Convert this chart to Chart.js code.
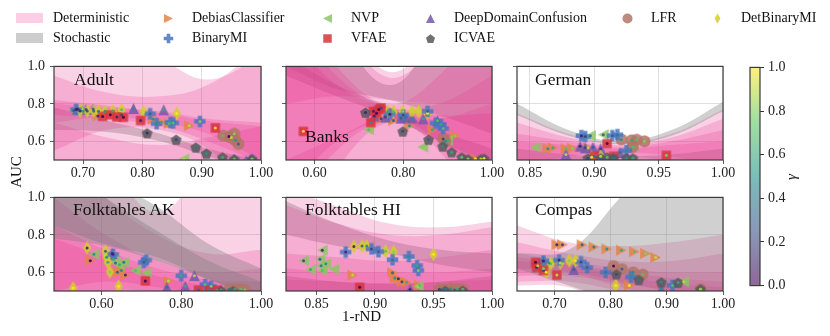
<!DOCTYPE html>
<html>
<head>
<meta charset="utf-8">
<script src="https://cdn.jsdelivr.net/npm/chart.js@4.4.1/dist/chart.umd.min.js"></script>
<style>
  body { margin: 0; width: 830px; height: 336px; position: relative; background: #fff; overflow: hidden;
         font-family: 'Liberation Serif', 'DejaVu Serif', serif; color: #111; }
  canvas.panel { position: absolute; }
  .ttl { position: absolute; font-size: 17.5px; line-height: 20px; white-space: nowrap; }
  .lg { position: absolute; font-size: 14px; line-height: 16px; white-space: nowrap; }
  .sw { position: absolute; width: 27px; height: 10px; }
  .axt { position: absolute; font-size: 15px; line-height: 18px; white-space: nowrap; }
</style>
</head>
<body>
<script>
// ---- methods ----
const methodCodes = ['DB', 'NVP', 'DDC', 'LFR', 'DBMI', 'BMI', 'VFAE', 'ICVAE'];
const methodNames = ['DebiasClassifier', 'NVP', 'DeepDomainConfusion', 'LFR', 'DetBinaryMI', 'BinaryMI', 'VFAE', 'ICVAE'];
const methodColors = ['rgba(226,133,72,0.85)', 'rgba(140,198,100,0.85)', 'rgba(118,88,170,0.85)', 'rgba(178,118,102,0.85)',
                      'rgba(214,206,44,0.85)', 'rgba(72,118,190,0.85)', 'rgba(214,52,60,0.85)', 'rgba(88,88,92,0.85)'];
const methodShapes = ['triR', 'triL', 'triU', 'circ', 'thin', 'plus', 'sq', 'pent'];

// ---- axes ----
const yTicks = [0.6, 0.8, 1.0];
const adultXTicks = [0.7, 0.8, 0.9, 1.0];
const banksXTicks = [0.6, 0.8, 1.0];
const germanXTicks = [0.85, 0.90, 0.95, 1.0];
const akXTicks = [0.6, 0.8, 1.0];
const hiXTicks = [0.85, 0.90, 0.95, 1.0];
const compasXTicks = [0.7, 0.8, 0.9, 1.0];

// ---- points: [method, 1-rND, AUC, gamma] ----
const adultPts = [
  ['DB',0.765,0.74,0.2],['DB',0.818,0.718,0.5],['DB',0.832,0.70,0.6],['DB',0.845,0.695,0.7],['DB',0.879,0.683,0.9],['DB',0.725,0.735,0.1],
  ['NVP',0.684,0.765,0.3],['NVP',0.70,0.76,0.5],['NVP',0.87,0.505,0.9],['NVP',0.692,0.77,0.2],
  ['DDC',0.69,0.772,0.1],['DDC',0.705,0.77,0.2],['DDC',0.717,0.772,0.3],['DDC',0.785,0.775,0.5],['DDC',0.836,0.768,0.6],['DDC',0.955,0.50,0.9],['DDC',0.975,0.495,1.0],
  ['LFR',0.936,0.63,0.7],['LFR',0.946,0.625,0.0],['LFR',0.955,0.64,0.8],['LFR',0.957,0.605,0.5],['LFR',0.962,0.585,0.3],['LFR',0.95,0.62,0.9],
  ['DBMI',0.695,0.762,0.1],['DBMI',0.707,0.762,0.2],['DBMI',0.718,0.762,0.3],['DBMI',0.726,0.76,0.4],['DBMI',0.737,0.76,0.5],['DBMI',0.750,0.762,0.6],['DBMI',0.765,0.768,0.7],['DBMI',0.802,0.758,0.9],['DBMI',0.858,0.748,1.0],
  ['BMI',0.688,0.77,0.1],['BMI',0.813,0.747,0.3],['BMI',0.824,0.694,0.5],['BMI',0.847,0.70,0.6],['BMI',0.852,0.698,0.7],['BMI',0.897,0.706,0.8],['BMI',0.984,0.498,0.9],
  ['VFAE',0.733,0.733,0.0],['VFAE',0.746,0.742,0.0],['VFAE',0.757,0.73,0.1],['VFAE',0.768,0.728,0.0],['VFAE',0.797,0.711,0.1],['VFAE',0.923,0.671,1.0],
  ['ICVAE',0.808,0.644,0.1],['ICVAE',0.857,0.609,0.2],['ICVAE',0.890,0.568,0.4],['ICVAE',0.908,0.535,0.5],['ICVAE',0.935,0.515,0.6],['ICVAE',0.955,0.505,0.7],['ICVAE',0.985,0.505,0.8]
];
const banksPts = [
  ['VFAE',0.575,0.653,1.0],['VFAE',0.733,0.76,0.1],['VFAE',0.745,0.77,0.0],['VFAE',0.75,0.778,0.2],['VFAE',0.727,0.70,0.5],['VFAE',0.74,0.75,0.0],
  ['ICVAE',0.715,0.754,0.1],['ICVAE',0.799,0.653,0.2],['ICVAE',0.857,0.609,0.3],['ICVAE',0.889,0.573,0.5],['ICVAE',0.909,0.542,0.6],['ICVAE',0.932,0.515,0.7],['ICVAE',0.946,0.505,0.8],['ICVAE',0.975,0.505,0.9],['ICVAE',0.982,0.508,1.0],
  ['DDC',0.735,0.735,0.1],['DDC',0.76,0.73,0.2],['DDC',0.795,0.724,0.3],['DDC',0.805,0.73,0.4],['DDC',0.82,0.725,0.5],['DDC',0.877,0.71,0.7],['DDC',0.845,0.72,0.6],
  ['DBMI',0.765,0.759,0.6],['DBMI',0.778,0.759,0.7],['DBMI',0.799,0.76,0.8],['DBMI',0.82,0.76,0.9],['DBMI',0.835,0.76,0.9],['DBMI',0.855,0.75,1.0],
  ['BMI',0.855,0.76,0.3],['BMI',0.873,0.697,0.5],['BMI',0.885,0.69,0.6],['BMI',0.89,0.668,0.7],['BMI',0.80,0.74,0.2],['BMI',0.77,0.745,0.1],
  ['DB',0.778,0.711,0.3],['DB',0.814,0.683,0.5],['DB',0.866,0.662,0.6],['DB',0.917,0.63,0.8],['DB',0.963,0.506,1.0],['DB',0.75,0.72,0.2],
  ['NVP',0.722,0.662,0.7],['NVP',0.844,0.57,0.8],['NVP',0.90,0.605,0.6],
  ['LFR',0.89,0.612,0.2],['LFR',0.895,0.60,0.5]
];
const germanPts = [
  ['NVP',0.854,0.568,0.8],['NVP',0.897,0.63,0.4],['NVP',0.907,0.635,0.3],['NVP',0.93,0.57,0.6],
  ['DB',0.864,0.56,0.5],['DB',0.868,0.565,0.6],['DB',0.878,0.56,0.7],['DB',0.883,0.563,0.8],['DB',0.895,0.565,0.9],
  ['DDC',0.878,0.53,0.9],['DDC',0.889,0.574,0.1],['DDC',0.893,0.565,0.2],['DDC',0.899,0.568,0.3],['DDC',0.920,0.54,0.4],['DDC',0.905,0.56,0.2],
  ['BMI',0.89,0.63,0.1],['BMI',0.893,0.625,0.2],['BMI',0.914,0.63,0.3],['BMI',0.918,0.635,0.4],['BMI',0.925,0.55,0.5],
  ['VFAE',0.91,0.588,0.0],['VFAE',0.956,0.525,0.8],['VFAE',0.90,0.52,0.4],['VFAE',0.915,0.52,0.3],
  ['LFR',0.921,0.61,0.5],['LFR',0.929,0.605,0.6],['LFR',0.933,0.608,0.7],['LFR',0.939,0.60,0.8],['LFR',0.93,0.57,0.7],
  ['ICVAE',0.895,0.51,0.2],['ICVAE',0.905,0.51,0.3],['ICVAE',0.915,0.51,0.4],['ICVAE',0.925,0.51,0.5],['ICVAE',0.93,0.51,0.6],['ICVAE',0.91,0.515,0.7],
  ['DBMI',0.905,0.52,0.9],['DBMI',0.898,0.515,1.0]
];
const akPts = [
  ['DBMI',0.564,0.73,0.1],['DBMI',0.61,0.713,0.3],['DBMI',0.613,0.68,0.5],['DBMI',0.616,0.653,0.6],['DBMI',0.621,0.602,0.8],['DBMI',0.643,0.525,1.0],['DBMI',0.529,0.516,1.0],
  ['NVP',0.581,0.696,0.5],['NVP',0.63,0.67,0.6],['NVP',0.635,0.65,0.3],['NVP',0.656,0.653,0.4],['NVP',0.685,0.61,0.7],['NVP',0.712,0.597,0.8],['NVP',0.645,0.64,0.6],
  ['DB',0.572,0.662,0.0],['DB',0.64,0.60,0.3],['DB',0.66,0.585,0.1],['DB',0.768,0.554,0.9],['DB',0.65,0.61,0.5],
  ['BMI',0.629,0.696,0.1],['BMI',0.706,0.653,0.3],['BMI',0.712,0.665,0.4],['BMI',0.80,0.582,0.6],['BMI',0.86,0.535,0.7],['BMI',0.875,0.525,0.8],
  ['DDC',0.627,0.70,0.1],['DDC',0.764,0.52,0.4],['DDC',0.81,0.525,0.6],['DDC',0.833,0.582,0.9],['DDC',0.90,0.505,0.7],
  ['VFAE',0.71,0.554,0.0],['VFAE',0.843,0.505,0.3],['VFAE',0.87,0.505,0.5],['VFAE',0.89,0.505,0.6],
  ['LFR',0.92,0.51,0.4],['LFR',0.935,0.51,0.6],['LFR',0.95,0.51,0.7],['LFR',0.96,0.505,0.8],
  ['ICVAE',0.90,0.50,0.2],['ICVAE',0.93,0.50,0.5]
];
const hiPts = [
  ['DBMI',0.882,0.738,0.1],['DBMI',0.889,0.74,0.3],['DBMI',0.893,0.74,0.5],['DBMI',0.909,0.713,0.7],['DBMI',0.916,0.71,0.8],['DBMI',0.95,0.696,1.0],
  ['BMI',0.875,0.708,0.1],['BMI',0.897,0.725,0.2],['BMI',0.903,0.71,0.3],['BMI',0.915,0.667,0.4],['BMI',0.929,0.684,0.5],['BMI',0.936,0.636,0.6],['BMI',0.937,0.61,0.8],
  ['NVP',0.855,0.718,0.1],['NVP',0.839,0.662,0.2],['NVP',0.853,0.67,0.3],['NVP',0.854,0.635,0.4],['NVP',0.858,0.645,0.5],['NVP',0.845,0.615,0.6],['NVP',0.855,0.61,0.7],['NVP',0.865,0.617,0.8],['NVP',0.937,0.525,0.9],
  ['DB',0.881,0.585,0.9],['DB',0.915,0.598,0.3],['DB',0.917,0.57,0.5],['DB',0.92,0.565,0.1],['DB',0.923,0.55,0.2],['DB',0.927,0.547,0.6],['DB',0.938,0.53,0.7],
  ['VFAE',0.887,0.52,0.0],
  ['DDC',0.93,0.508,0.1],['DDC',0.955,0.505,0.3],
  ['LFR',0.955,0.51,0.2],['LFR',0.96,0.51,0.4],['LFR',0.965,0.512,0.5],['LFR',0.97,0.51,0.6],['LFR',0.975,0.51,0.7],['LFR',0.968,0.505,0.3],
  ['ICVAE',0.96,0.502,0.4],['ICVAE',0.975,0.502,0.6]
];
const compasPts = [
  ['DB',0.704,0.747,0.1],['DB',0.714,0.747,0.2],['DB',0.749,0.747,0.3],['DB',0.77,0.735,0.4],['DB',0.793,0.725,0.5],['DB',0.819,0.718,0.6],['DB',0.842,0.71,0.7],['DB',0.862,0.70,0.8],['DB',0.88,0.679,0.9],['DB',0.833,0.53,1.0],
  ['VFAE',0.666,0.653,0.0],['VFAE',0.668,0.625,0.1],['VFAE',0.68,0.61,0.2],['VFAE',0.704,0.585,0.9],
  ['DBMI',0.67,0.635,0.9],['DBMI',0.68,0.62,0.8],['DBMI',0.693,0.645,0.7],['DBMI',0.71,0.65,0.9],['DBMI',0.726,0.662,0.8],['DBMI',0.737,0.662,1.0],['DBMI',0.809,0.53,1.0],['DBMI',0.685,0.60,1.0],
  ['BMI',0.708,0.665,0.1],['BMI',0.747,0.655,0.2],['BMI',0.758,0.625,0.3],['BMI',0.791,0.60,0.4],['BMI',0.836,0.575,0.5],['BMI',0.91,0.53,0.7],['BMI',0.68,0.66,0.3],
  ['DDC',0.68,0.66,0.1],['DDC',0.734,0.615,0.3],['DDC',0.89,0.51,0.5],
  ['LFR',0.805,0.633,0.0],['LFR',0.82,0.617,0.3],['LFR',0.84,0.60,0.5],['LFR',0.857,0.588,0.7],['LFR',0.96,0.51,0.9],
  ['ICVAE',0.81,0.59,0.2],['ICVAE',0.85,0.56,0.4],['ICVAE',0.89,0.547,0.5],['ICVAE',0.92,0.545,0.6],['ICVAE',0.96,0.51,0.8],
  ['NVP',0.93,0.55,0.9],['NVP',0.69,0.65,0.5]
];

// ---- confidence bands: ['d'|'s', upper, lower] sampled at the panel's band x ----
const adultBandX = [0.651, 0.74, 0.83, 0.91, 1.0];
const adultBands = [
  ['d', [1.2, 1.15, 1.04, 0.93, 1.05], [0.2, 0.2, 0.2, 0.2, 0.2]],
  ['d', [0.95, 0.86, 0.84, 0.90, 1.1], [0.55, 0.66, 0.66, 0.56, 0.3]],
  ['d', [0.82, 0.79, 0.75, 0.71, 0.68], [0.74, 0.72, 0.68, 0.60, 0.48]],
  ['d', [0.80, 0.78, 0.76, 0.72, 0.70], [0.70, 0.73, 0.70, 0.64, 0.50]],
  ['d', [0.70, 0.62, 0.58, 0.62, 0.68], [0.2, 0.2, 0.2, 0.2, 0.2]],
  ['s', [0.78, 0.71, 0.64, 0.56, 0.50], [0.66, 0.65, 0.60, 0.52, 0.44]]
];
const banksBandX = [0.536, 0.65, 0.77, 0.88, 1.0];
const banksBands = [
  ['d', [1.6, 1.3, 0.97, 1.2, 1.6], [-0.5, 0.2, 0.5, 0.2, -0.5]],
  ['d', [1.4, 1.0, 0.80, 0.95, 1.3], [0.0, 0.45, 0.70, 0.55, 0.1]],
  ['d', [1.3, 0.95, 0.78, 0.80, 0.95], [0.2, 0.55, 0.71, 0.60, 0.30]],
  ['d', [1.2, 0.90, 0.78, 0.74, 0.75], [0.3, 0.60, 0.70, 0.60, 0.40]],
  ['d', [0.5, 0.62, 0.74, 0.72, 0.8], [0.2, 0.2, 0.2, 0.2, 0.2]],
  ['d', [1.6, 1.25, 0.94, 1.15, 1.6], [0.8, 0.84, 0.82, 0.8, 0.8]],
  ['s', [1.05, 0.90, 0.78, 0.66, 0.56], [0.95, 0.84, 0.73, 0.60, 0.48]],
  ['s', [1.6, 1.2, 0.9, 1.2, 1.6], [1.0, 0.88, 0.82, 0.74, 0.64]]
];
const germanBandX = [0.84, 0.88, 0.92, 0.96, 1.0];
const germanBands = [
  ['s', [0.80, 0.66, 0.60, 0.66, 0.81], [0.74, 0.63, 0.585, 0.63, 0.76]],
  ['d', [0.75, 0.64, 0.59, 0.64, 0.77], [0.2, 0.2, 0.2, 0.2, 0.2]],
  ['d', [0.70, 0.62, 0.58, 0.62, 0.72], [0.3, 0.45, 0.50, 0.45, 0.3]],
  ['d', [0.64, 0.60, 0.57, 0.60, 0.66], [0.35, 0.48, 0.52, 0.48, 0.35]],
  ['d', [0.60, 0.58, 0.56, 0.58, 0.60], [0.45, 0.52, 0.54, 0.52, 0.45]],
  ['s', [0.56, 0.53, 0.52, 0.53, 0.56], [0.46, 0.49, 0.50, 0.49, 0.46]]
];
const akBandX = [0.481, 0.61, 0.74, 0.87, 1.0];
const akBands = [
  ['s', [1.3, 1.1, 0.95, 0.75, 0.62], [0.78, 0.74, 0.66, 0.56, 0.45]],
  ['s', [1.2, 1.0, 0.82, 0.66, 0.55], [0.85, 0.75, 0.68, 0.56, 0.46]],
  ['d', [1.5, 1.2, 0.92, 1.2, 1.5], [0.2, 0.2, 0.2, 0.2, 0.2]],
  ['d', [1.3, 1.0, 0.80, 0.70, 0.72], [0.2, 0.2, 0.2, 0.2, 0.2]],
  ['d', [1.0, 0.80, 0.66, 0.60, 0.62], [0.4, 0.5, 0.5, 0.5, 0.48]],
  ['d', [0.85, 0.72, 0.62, 0.56, 0.55], [0.5, 0.55, 0.52, 0.48, 0.45]],
  ['d', [0.78, 0.68, 0.58, 0.53, 0.5], [0.2, 0.2, 0.2, 0.2, 0.2]]
];
const hiBandX = [0.824, 0.868, 0.912, 0.956, 1.0];
const hiBands = [
  ['d', [1.05, 0.95, 0.86, 0.84, 0.87], [0.2, 0.2, 0.2, 0.2, 0.2]],
  ['d', [0.96, 0.86, 0.80, 0.80, 0.84], [0.2, 0.2, 0.2, 0.2, 0.2]],
  ['s', [0.98, 0.86, 0.77, 0.72, 0.70], [0.80, 0.74, 0.70, 0.64, 0.60]],
  ['d', [0.70, 0.68, 0.66, 0.68, 0.72], [0.2, 0.2, 0.2, 0.2, 0.2]],
  ['d', [0.62, 0.60, 0.60, 0.60, 0.62], [0.2, 0.2, 0.2, 0.2, 0.2]],
  ['s', [0.58, 0.55, 0.54, 0.55, 0.58], [0.45, 0.45, 0.46, 0.45, 0.44]],
  ['d', [0.56, 0.55, 0.54, 0.55, 0.56], [0.2, 0.2, 0.2, 0.2, 0.2]]
];
const compasBandX = [0.633, 0.725, 0.817, 0.908, 1.0];
const compasBands = [
  ['s', [0.70, 0.72, 1.0, 1.3, 1.3], [0.62, 0.53, 0.45, 0.45, 0.45]],
  ['d', [0.85, 0.76, 0.74, 0.76, 0.80], [0.53, 0.52, 0.4, 0.4, 0.4]],
  ['d', [0.76, 0.70, 0.66, 0.66, 0.70], [0.55, 0.55, 0.50, 0.45, 0.45]],
  ['d', [0.70, 0.66, 0.62, 0.60, 0.60], [0.58, 0.58, 0.54, 0.50, 0.45]],
  ['d', [0.68, 0.65, 0.60, 0.57, 0.55], [0.60, 0.60, 0.55, 0.50, 0.48]],
  ['d', [0.66, 0.64, 0.58, 0.54, 0.52], [0.62, 0.60, 0.52, 0.47, 0.45]]
];

// ---- layout ----
const FONT = "'Liberation Serif', 'DejaVu Serif', serif";
const DET = 'rgba(232,48,140,0.22)';
const STO = 'rgba(120,120,120,0.35)';
const GRID = 'rgba(205,205,205,0.8)';
Chart.defaults.font.family = FONT;
Chart.defaults.color = '#222';

const panels = [
  { title: 'Adult', xmin: 0.651, xticks: adultXTicks, pts: adultPts, bx: adultBandX, bands: adultBands,
    left: 54, top: 63, w: 207, h: 97, ylab: true, tx: 20, ty: 16 },
  { title: 'Banks', xmin: 0.536, xticks: banksXTicks, pts: banksPts, bx: banksBandX, bands: banksBands,
    left: 286, top: 63, w: 206, h: 97, ylab: false, tx: 19, ty: 73 },
  { title: 'German', xmin: 0.84, xticks: germanXTicks, pts: germanPts, bx: germanBandX, bands: germanBands,
    left: 517, top: 63, w: 206, h: 97, ylab: false, tx: 18, ty: 16 },
  { title: 'Folktables AK', xmin: 0.481, xticks: akXTicks, pts: akPts, bx: akBandX, bands: akBands,
    left: 54, top: 194, w: 207, h: 97, ylab: true, tx: 19, ty: 15 },
  { title: 'Folktables HI', xmin: 0.824, xticks: hiXTicks, pts: hiPts, bx: hiBandX, bands: hiBands,
    left: 286, top: 194, w: 206, h: 97, ylab: false, tx: 19, ty: 15 },
  { title: 'Compas', xmin: 0.633, xticks: compasXTicks, pts: compasPts, bx: compasBandX, bands: compasBands,
    left: 517, top: 194, w: 206, h: 97, ylab: false, tx: 18, ty: 15 }
];

// viridis colormap
const VIR = [[68,1,84],[59,82,139],[33,145,140],[94,201,98],[253,231,37]];
function viridis(t, a) {
  t = Math.min(1, Math.max(0, t)) * 4;
  const i = Math.min(3, Math.floor(t)), f = t - i;
  const c = VIR[i].map((v, k) => Math.round(v + (VIR[i + 1][k] - v) * f));
  return `rgba(${c[0]},${c[1]},${c[2]},${a})`;
}

function makeMarker(shape, color, s) {
  const c = document.createElement('canvas');
  c.width = c.height = s;
  const g = c.getContext('2d');
  const m = s / 2, r = s / 2 - 0.5;
  g.fillStyle = color;
  g.beginPath();
  if (shape === 'circ') {
    g.arc(m, m, r, 0, Math.PI * 2);
  } else if (shape === 'sq') {
    g.rect(m - r * 0.85, m - r * 0.85, r * 1.7, r * 1.7);
  } else if (shape === 'thin') {
    g.moveTo(m, m - r); g.lineTo(m + r * 0.6, m); g.lineTo(m, m + r); g.lineTo(m - r * 0.6, m);
  } else if (shape === 'plus') {
    const a = r * 0.36, b = r * 0.95;
    const pts = [[-a,-b],[a,-b],[a,-a],[b,-a],[b,a],[a,a],[a,b],[-a,b],[-a,a],[-b,a],[-b,-a],[-a,-a]];
    pts.forEach(([x, y], i) => i ? g.lineTo(m + x, m + y) : g.moveTo(m + x, m + y));
  } else if (shape === 'pent') {
    for (let k = 0; k < 5; k++) {
      const an = (-90 + 72 * k) * Math.PI / 180;
      const x = m + r * 0.95 * Math.cos(an), y = m + 0.6 + r * 0.95 * Math.sin(an);
      k ? g.lineTo(x, y) : g.moveTo(x, y);
    }
  } else {
    const q = r * 0.9;
    let v;
    if (shape === 'triR') v = [[q, 0], [-q, -q], [-q, q]];
    else if (shape === 'triL') v = [[-q, 0], [q, -q], [q, q]];
    else v = [[0, -q], [q, q], [-q, q]];
    v.forEach(([x, y], i) => i ? g.lineTo(m + x, m + y) : g.moveTo(m + x, m + y));
  }
  g.closePath();
  g.fill();
  return c;
}

const markerSize = { triR: 13, triL: 13, triU: 13, circ: 13, thin: 15, plus: 13, sq: 12, pent: 13 };
const markers = methodShapes.map((sh, i) => makeMarker(sh, methodColors[i], markerSize[sh]));

const framePlugin = {
  id: 'frame',
  afterDraw(chart) {
    const a = chart.chartArea, g = chart.ctx;
    g.save();
    g.strokeStyle = '#3a3a3a';
    g.lineWidth = 1.2;
    g.strokeRect(a.left, a.top, a.right - a.left, a.bottom - a.top);
    g.restore();
  }
};

const YW = 34, PT = 10, PR = 16, XH = 22;

panels.forEach(p => {
  const cv = document.createElement('canvas');
  cv.className = 'panel';
  const W = p.w + YW + PR, H = p.h + PT + XH;
  cv.width = W; cv.height = H;
  cv.style.left = (p.left - YW) + 'px';
  cv.style.top = (p.top - PT) + 'px';
  cv.style.width = W + 'px';
  cv.style.height = H + 'px';
  document.body.appendChild(cv);

  const datasets = [];
  p.bands.forEach(([kind, hi, lo]) => {
    datasets.push({ data: p.bx.map((x, i) => ({ x, y: lo[i] })), borderWidth: 0, pointRadius: 0,
                    fill: false, tension: 0.4, order: 10 });
    datasets.push({ data: p.bx.map((x, i) => ({ x, y: hi[i] })), borderWidth: 0, pointRadius: 0,
                    fill: '-1', backgroundColor: kind === 'd' ? DET : STO, tension: 0.4, order: 10 });
  });
  methodCodes.forEach((code, mi) => {
    const rows = p.pts.filter(r => r[0] === code);
    if (!rows.length) return;
    datasets.push({ data: rows.map(r => ({ x: r[1], y: r[2] })), showLine: false, pointStyle: markers[mi],
                    pointRadius: 6, order: 2 + (methodCodes.length - mi) * 0.01, clip: 0 });
  });
  datasets.push({ data: p.pts.map(r => ({ x: r[1], y: r[2] })), showLine: false, pointStyle: 'circle',
                  pointRadius: 1.5, pointBorderWidth: 0,
                  pointBackgroundColor: p.pts.map(r => viridis(r[3], 0.9)), order: 1, clip: 0 });

  new Chart(cv, {
    type: 'line',
    data: { datasets },
    options: {
      responsive: false, animation: false, events: [],
      layout: { padding: { top: PT, right: PR, left: 0, bottom: 0 } },
      plugins: { legend: { display: false }, tooltip: { enabled: false } },
      scales: {
        x: {
          type: 'linear', min: p.xmin, max: 1.0, z: 1,
          afterBuildTicks: s => { s.ticks = p.xticks.map(v => ({ value: v })); },
          afterFit: s => { s.height = XH; },
          ticks: { callback: v => Number(v).toFixed(2), font: { size: 14 }, color: '#222', padding: 1,
                   maxRotation: 0, autoSkip: false },
          grid: { color: GRID, lineWidth: 0.8, tickColor: '#333', tickLength: 4 },
          border: { display: false }
        },
        y: {
          type: 'linear', min: 0.5, max: 1.0, z: 1,
          afterBuildTicks: s => { s.ticks = yTicks.map(v => ({ value: v })); },
          afterFit: s => { s.width = YW; },
          ticks: { callback: v => p.ylab ? Number(v).toFixed(1) : '', font: { size: 14 }, color: '#222', padding: 5 },
          grid: { color: GRID, lineWidth: 0.8, tickColor: '#333', tickLength: 4 },
          border: { display: false }
        }
      }
    },
    plugins: [framePlugin]
  });

  const t = document.createElement('div');
  t.className = 'ttl';
  t.textContent = p.title;
  t.style.left = (p.left + p.tx) + 'px';
  t.style.top = (p.top + p.ty - 10) + 'px';
  document.body.appendChild(t);
});

// ---- colorbar ----
const cbTicks = [0, 0.2, 0.4, 0.6, 0.8, 1.0];
(function () {
  const cv = document.createElement('canvas');
  cv.className = 'panel';
  const W = 4 + 10 + 40, H = 8 + 227 + 8;
  cv.width = W; cv.height = H;
  cv.style.left = '746px'; cv.style.top = '55px';
  cv.style.width = W + 'px'; cv.style.height = H + 'px';
  document.body.appendChild(cv);
  const grad = {
    id: 'grad',
    beforeDatasetsDraw(chart) {
      const a = chart.chartArea, g = chart.ctx;
      const lg = g.createLinearGradient(0, a.bottom, 0, a.top);
      for (let i = 0; i <= 20; i++) lg.addColorStop(i / 20, viridis(i / 20, 0.6));
      g.save();
      g.fillStyle = lg;
      g.fillRect(a.left, a.top, a.right - a.left, a.bottom - a.top);
      g.restore();
    }
  };
  new Chart(cv, {
    type: 'scatter',
    data: { datasets: [] },
    options: {
      responsive: false, animation: false, events: [],
      layout: { padding: { left: 4, top: 8, bottom: 8, right: 0 } },
      plugins: { legend: { display: false }, tooltip: { enabled: false } },
      scales: {
        x: { display: false, min: 0, max: 1 },
        y: {
          position: 'right', min: 0, max: 1,
          afterBuildTicks: s => { s.ticks = cbTicks.map(v => ({ value: v })); },
          afterFit: s => { s.width = 40; },
          ticks: { callback: v => Number(v).toFixed(1), font: { size: 14 }, color: '#222', padding: 4 },
          grid: { drawOnChartArea: false, tickColor: '#333', tickLength: 4 },
          border: { display: false }
        }
      }
    },
    plugins: [grad, framePlugin]
  });
})();

// ---- legend ----
const legendSwatches = [['Deterministic', 'rgb(252,206,230)', 18], ['Stochastic', 'rgb(205,205,205)', 38]];
legendSwatches.forEach(([name, col, y]) => {
  const s = document.createElement('div');
  s.className = 'sw';
  s.style.left = '16px'; s.style.top = (y - 5) + 'px'; s.style.background = col;
  document.body.appendChild(s);
  const t = document.createElement('div');
  t.className = 'lg'; t.textContent = name;
  t.style.left = '53px'; t.style.top = (y - 8) + 'px';
  document.body.appendChild(t);
});
const legendSlots = [[168, 18], [327, 18], [430, 18], [627, 18], [717, 18], [168, 38], [327, 38], [430, 38]];
const legendOrder = ['DB', 'NVP', 'DDC', 'LFR', 'DBMI', 'BMI', 'VFAE', 'ICVAE'];
legendOrder.forEach((code, k) => {
  const mi = methodCodes.indexOf(code);
  const [mx, my] = legendSlots[k];
  const mk = makeMarker(methodShapes[mi], methodColors[mi], 11);
  mk.style.position = 'absolute';
  mk.style.left = (mx - 5.5) + 'px'; mk.style.top = (my - 5.5) + 'px';
  document.body.appendChild(mk);
  const t = document.createElement('div');
  t.className = 'lg'; t.textContent = methodNames[mi];
  t.style.left = (mx + 24) + 'px'; t.style.top = (my - 8) + 'px';
  document.body.appendChild(t);
});

// ---- axis titles ----
const ay = document.createElement('div');
ay.className = 'axt'; ay.textContent = 'AUC';
ay.style.left = '0px'; ay.style.top = '163px';
ay.style.transform = 'rotate(-90deg)';
document.body.appendChild(ay);
const ax = document.createElement('div');
ax.className = 'axt'; ax.textContent = '1-rND';
ax.style.left = '342px'; ax.style.top = '307px';
document.body.appendChild(ax);
const ag = document.createElement('div');
ag.className = 'axt'; ag.textContent = 'γ';
ag.style.left = '788px'; ag.style.top = '168px'; ag.style.fontStyle = 'italic';
ag.style.transform = 'rotate(-90deg)';
document.body.appendChild(ag);
</script>
</body>
</html>
